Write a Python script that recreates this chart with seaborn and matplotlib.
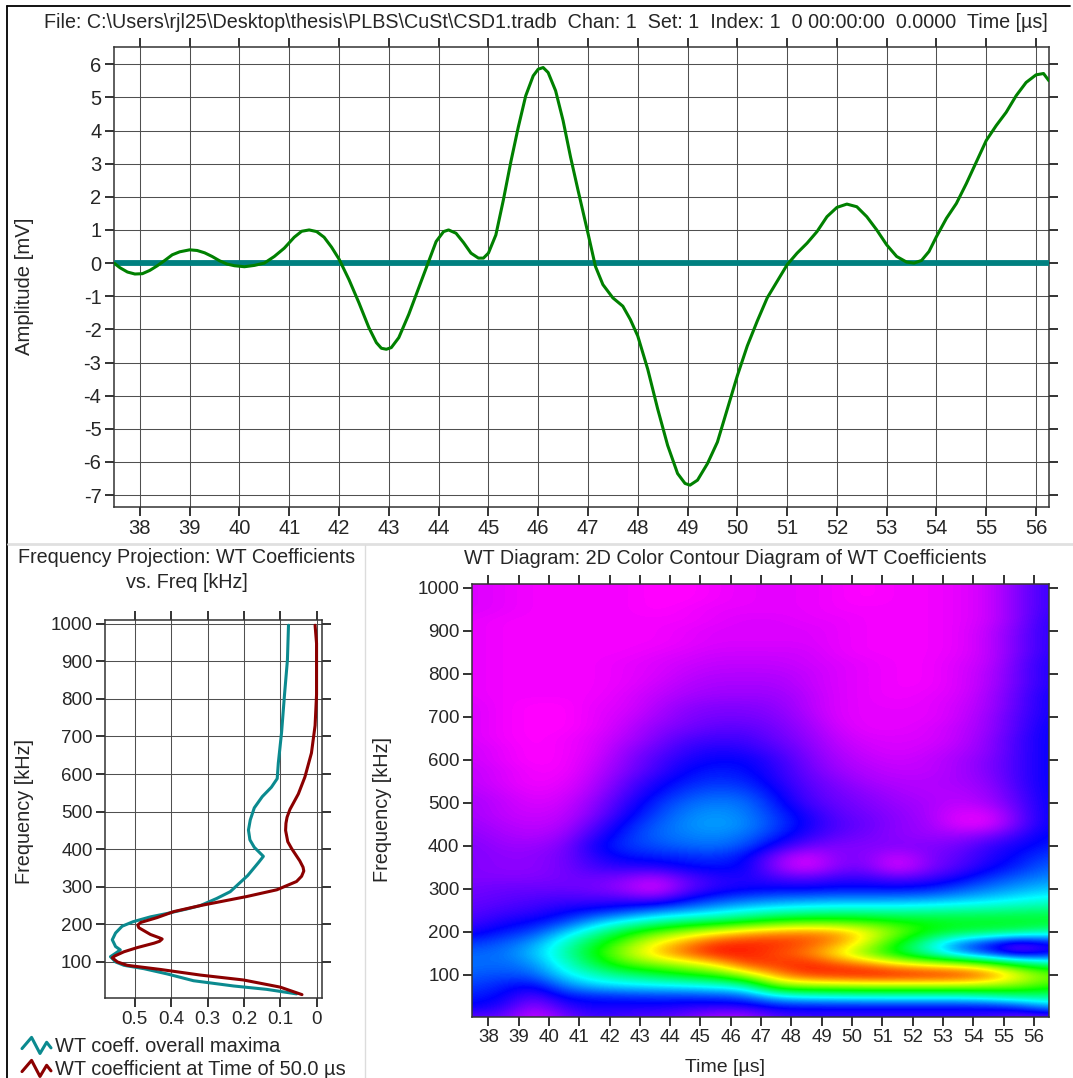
import numpy as np
import pandas as pd
import seaborn as sns
import matplotlib
matplotlib.use('Agg')
import matplotlib.pyplot as plt
from matplotlib.colors import LinearSegmentedColormap
from matplotlib.legend_handler import HandlerBase
from matplotlib.lines import Line2D

# --- waveform ---
wave_time = [37.48, 37.6, 37.75, 37.9, 38.05, 38.2, 38.35, 38.5, 38.65, 38.8, 39, 39.15, 39.3, 39.45, 39.6, 39.75,
             39.9, 40.1, 40.3, 40.5, 40.7, 40.9, 41.1, 41.25, 41.4, 41.55, 41.7, 41.85, 42, 42.2, 42.4, 42.6,
             42.75, 42.85, 42.95, 43.05, 43.2, 43.4, 43.6, 43.8, 43.95, 44.1, 44.2, 44.35, 44.5, 44.65, 44.8, 44.9,
             45, 45.15, 45.3, 45.45, 45.6, 45.75, 45.9, 46, 46.1, 46.2, 46.35, 46.5, 46.65, 46.8, 47, 47.15,
             47.3, 47.5, 47.7, 47.85, 48, 48.2, 48.4, 48.6, 48.8, 48.95, 49.05, 49.2, 49.4, 49.6, 49.8, 50,
             50.2, 50.4, 50.6, 50.8, 51, 51.2, 51.4, 51.6, 51.8, 52, 52.2, 52.4, 52.6, 52.8, 53, 53.2,
             53.4, 53.55, 53.7, 53.85, 54, 54.2, 54.4, 54.6, 54.8, 55, 55.2, 55.4, 55.6, 55.8, 56, 56.15, 56.26]
wave_mv = [0, -.14, -.27, -.33, -.32, -.22, -.08, .08, .25, .34, .4, .38, .31, .2, .07, -.03,
           -.08, -.11, -.07, 0, .2, .45, .78, .96, 1.0, .95, .78, .48, .12, -.5, -1.2, -1.95,
           -2.4, -2.57, -2.6, -2.55, -2.25, -1.55, -.75, .05, .65, .95, 1.0, .9, .62, .3, .15, .15,
           .3, .85, 1.9, 3.05, 4.1, 5.05, 5.65, 5.85, 5.9, 5.75, 5.2, 4.3, 3.2, 2.2, .9, -.1,
           -.65, -1.05, -1.3, -1.7, -2.2, -3.2, -4.4, -5.5, -6.35, -6.65, -6.7, -6.55, -6.05, -5.4, -4.4, -3.4,
           -2.5, -1.75, -1.05, -.55, -.05, .3, .6, .95, 1.4, 1.68, 1.78, 1.7, 1.4, 1.0, .55, .2,
           .03, 0, .08, .35, .8, 1.35, 1.8, 2.4, 3.05, 3.7, 4.15, 4.55, 5.05, 5.45, 5.68, 5.72, 5.5]
base_time = [37.48, 56.26]
base_mv = [0, 0]

# --- frequency projection ---
max_coef = [.078, .081, .089, .097, .106, .109, .125, .15, .172, .183, .188, .184, .172, .147, .16, .19, .238, .275,
            .32, .357, .411, .457, .505, .535, .553, .562, .553, .54, .553, .567, .553, .53, .475, .411, .339,
            .229, .138, .056]
max_freq = [996, 903, 811, 711, 629, 588, 565, 540, 510, 478, 451, 425, 405, 381, 365, 330, 287, 269,
            250, 241, 229, 220, 207, 195, 177, 159, 141, 132, 123, 114, 100, 91, 82, 68, 50,
            36, 27, 15]
t50_coef = [.005, .001, .001, .005, .015, .033, .051, .074, .082, .085, .086, .08, .069, .047, .038, .036, .042, .056,
            .11, .193, .32, .393, .439, .484, .492, .489, .457, .432, .425, .432, .447, .494, .53, .555, .562, .548,
            .521, .43, .32, .202, .101, .041]
t50_freq = [996, 948, 811, 729, 656, 592, 547, 506, 485, 469, 450, 420, 401, 369, 352, 342, 328, 314,
            292, 274, 250, 234, 218, 205, 198, 191, 173, 164, 161, 155, 150, 138, 127, 116, 111, 100,
            91, 80, 65, 52, 33, 13]

# --- WT diagram, rows from 0 kHz upward in 25 kHz steps, columns 37.5 .. 56.5 us ---
wt_rows = [
    [1.2, 1.2, .3, 1.0, 1.5, 1.4, 1.3, 1.1, .6, .6, 1.3, 1.5, 1.5, 1.5, 1.5, 1.5, 1.5, 1.5, 1.0, 1.0],
    [2, 1.7, .7, 1.6, 1.9, 1.8, 1.8, 1.7, 1.6, 1.6, 2, 2, 2, 2, 2, 2, 2, 2, 2.3, 3.2],
    [2.2, 2, 1.3, 2.1, 2.2, 2.3, 2.4, 2.4, 2.5, 2.7, 3.7, 4, 4.1, 4.2, 4.2, 4.2, 4.2, 4.5, 4.9, 5],
    [2.5, 2.2, 1.9, 3, 3.6, 3.8, 3.9, 4, 4.2, 4.5, 7, 7.3, 7.4, 7.5, 7.5, 7.5, 7.5, 7.3, 7, 6.3],
    [2.7, 2.6, 2.7, 3.8, 4.5, 5, 5.4, 5.9, 6.3, 7.5, 8.8, 9.6, 9.8, 10, 10, 9.9, 9.8, 9.3, 8, 7],
    [2.9, 2.8, 3.1, 4.3, 5.4, 6.5, 7, 7.5, 8.2, 9.5, 9.6, 9.8, 9.4, 9, 8.3, 7.9, 7.6, 7, 5.8, 5],
    [2.8, 2.9, 3.5, 4.6, 6, 7.3, 8.4, 9.2, 9.9, 9.8, 9.4, 9, 8, 6.8, 5.7, 4.5, 3.2, 2.2, 1.2, 1.8],
    [2.4, 2.7, 3.2, 4.4, 5.6, 6.8, 8, 8.8, 9.6, 9.7, 9.7, 9.4, 8.9, 7.7, 6, 4.5, 3, 2.2, 1.2, 2],
    [1.8, 2.2, 2.5, 3.5, 4.6, 5.7, 6.6, 7.3, 7.9, 8.5, 8.8, 9, 8.8, 8, 7, 6, 5.6, 5.4, 5.2, 4.7],
    [1.5, 1.8, 2, 2.4, 3.3, 4, 4.6, 5, 5.3, 5.7, 6.2, 6.4, 6.4, 6.3, 6, 5.9, 5.8, 5.8, 5.8, 5.8],
    [1.3, 1.5, 1.6, 1.9, 2.1, 2.4, 2.9, 3.2, 3.6, 4, 4.3, 4.5, 4.6, 4.6, 4.6, 4.7, 4.8, 4.9, 5, 5.1],
    [1.2, 1.3, 1.4, 1.5, 1.5, 1.5, 1.3, 2, 2.5, 2.8, 3, 3.1, 3.2, 3.2, 3.2, 3.3, 3.5, 3.7, 4, 4.2],
    [1.1, 1.2, 1.2, 1.2, 1.1, .8, .2, 1.2, 1.7, 1.9, 2, 2, 2.1, 2.1, 2.1, 2.2, 2.6, 3, 3.3, 3.6],
    [1.0, 1.0, 1.0, 1.1, 1.2, 1.0, .6, 1.3, 1.7, 1.8, 1.5, 1.3, 1.6, 1.6, 1.3, 1.5, 1.9, 2.4, 2.8, 3.1],
    [1, .9, .9, 1.1, 1.5, 1.7, 1.7, 2, 2.1, 2, .9, .2, 1.0, 1.1, .2, 1.0, 1.4, 1.9, 2.3, 2.8],
    [1, .9, .9, 1.1, 1.7, 2.1, 2.2, 2.3, 2.4, 2.1, 1.0, .3, 1.0, 1.0, .4, 1.0, 1.3, 1.7, 2.1, 2.5],
    [1, .8, .8, 1, 1.9, 2.4, 2.6, 2.8, 2.9, 2.6, 1.8, 1.2, 1, 1, 1, 1.0, 1.1, 1.6, 1.9, 2.2],
    [.9, .7, .6, .8, 1.6, 2.3, 2.8, 3, 3.1, 2.9, 2.3, 1.7, 1.3, 1.1, .9, .8, .8, 1.0, 1.6, 2.1],
    [.8, .6, .5, .6, 1.3, 2.1, 2.7, 3.1, 3.3, 3.1, 2.5, 1.9, 1.4, 1.2, .9, .8, .25, .2, 1.2, 2],
    [.7, .5, .4, .5, 1.0, 1.8, 2.5, 3, 3.2, 3, 2.4, 1.8, 1.3, 1.1, .9, .7, .3, .3, 1.2, 2],
    [.7, .5, .3, .4, .9, 1.6, 2.3, 2.8, 3, 2.9, 2.2, 1.5, 1.2, 1, .8, .7, .5, .7, 1.3, 2],
    [.6, .4, .2, .3, .7, 1.4, 2, 2.5, 2.7, 2.6, 2, 1.4, 1.1, .9, .7, .6, .6, .8, 1.4, 2],
    [.5, .3, .1, .2, .6, 1.2, 1.8, 2.2, 2.4, 2.3, 1.8, 1.3, 1, .7, .6, .6, .7, .9, 1.5, 2],
    [.5, .3, .1, .1, .5, 1, 1.5, 2, 2.2, 2.1, 1.7, 1.2, .8, .6, .5, .5, .7, 1, 1.5, 2],
    [.4, .2, 0, .1, .4, .9, 1.4, 1.8, 2, 2, 1.6, 1.1, .7, .5, .4, .5, .7, 1, 1.5, 2],
    [.4, .2, 0, .1, .3, .8, 1.2, 1.6, 1.8, 1.7, 1.4, 1, .6, .4, .3, .4, .6, .9, 1.5, 2],
    [.3, .1, 0, .1, .3, .6, 1.0, 1.4, 1.5, 1.5, 1.2, .9, .5, .3, .3, .3, .5, .9, 1.5, 2],
    [.3, .1, 0, 0, .2, .5, .9, 1.1, 1.3, 1.3, 1.1, .8, .4, .2, .2, .3, .5, .8, 1.4, 2],
    [.3, .1, 0, 0, .2, .4, .7, 1, 1.1, 1.1, 1, .7, .3, .2, .2, .2, .4, .8, 1.4, 1.9],
    [.3, .1, 0, 0, .2, .3, .6, .9, 1, 1, .9, .6, .3, .2, .2, .2, .4, .7, 1.3, 1.9],
    [.2, .1, .1, .1, .1, .3, .5, .7, .8, .8, .8, .6, .3, .2, .1, .2, .3, .7, 1.3, 1.9],
    [.2, .1, .1, .1, .1, .2, .4, .6, .7, .7, .7, .5, .3, .2, .1, .1, .3, .6, 1.2, 1.8],
    [.2, .1, .1, .1, .1, .2, .3, .5, .6, .6, .6, .5, .3, .2, .1, .1, .3, .6, 1.2, 1.8],
    [.2, .1, .1, .1, .1, .2, .3, .4, .5, .5, .5, .4, .3, .2, .1, .1, .3, .5, 1.2, 1.8],
    [.2, .1, .1, .1, .1, .1, .2, .3, .4, .4, .4, .4, .2, .1, .1, .1, .2, .5, 1.1, 1.7],
    [.2, .1, .1, .1, .1, .1, .1, .2, .3, .3, .3, .3, .2, .1, .1, .1, .2, .5, 1.1, 1.7],
    [.2, .1, .1, .1, .1, .1, .1, .2, .3, .3, .3, .3, .2, .1, .1, .1, .2, .5, 1.1, 1.7],
    [.2, .1, .1, .1, .1, .1, .1, .1, .2, .3, .3, .2, .2, .1, .1, .1, .2, .4, 1.0, 1.7],
    [.3, .2, .1, .1, .1, .1, 0, .1, .2, .2, .2, .2, .1, .1, .1, .1, .2, .4, 1.0, 1.6],
    [.3, .2, .1, .1, .1, .1, 0, 0, .1, .2, .2, .2, .1, 0, .1, .1, .2, .4, 1.0, 1.6],
    [.3, .2, .1, .1, .1, .1, 0, 0, .1, .2, .2, .2, .1, 0, .1, .1, .2, .4, 1.0, 1.6],
]

time_ticks = list(range(38, 57))
amp_ticks = list(range(-7, 7))
freq_ticks = list(range(100, 1100, 100))
coef_ticks = [0.5, 0.4, 0.3, 0.2, 0.1, 0]
coef_labels = ['0.5', '0.4', '0.3', '0.2', '0.1', '0']

W, H = 1073, 1078
TEAL = '#0b8a8f'
RED = '#8b0000'
GRID = '#505050'

sns.set_style('ticks')
plt.rcParams['font.family'] = ['Liberation Sans', 'DejaVu Sans']
plt.rcParams['font.size'] = 14
plt.rcParams['axes.unicode_minus'] = False


def place(fig, left, top, right, bottom):
    # pixel box -> axes
    return fig.add_axes([left / W, 1 - bottom / H, (right - left) / W, (bottom - top) / H])


def dress(ax, size=14.5, grid=True):
    ax.tick_params(which='major', direction='out', length=6.5, width=1.2, color='#111111',
                   top=True, right=True, bottom=True, left=True, labelsize=size, pad=2.5)
    for s in ax.spines.values():
        s.set_color('#333333')
        s.set_linewidth(1.1)
    if grid:
        ax.grid(True, color=GRID, linewidth=0.75)
        ax.set_axisbelow(True)


def label_at(axis, x, y):
    axis.set_label_coords(x / W, 1 - y / H, transform=axis.axes.figure.transFigure)
    axis.label.set_verticalalignment('center')


class ZigzagHandler(HandlerBase):
    def create_artists(self, legend, orig, xd, yd, width, height, fontsize, trans):
        xs = np.array([0, .33, .62, .85, 1]) * width
        ys = np.array([.25, 1.05, -.1, .7, .3]) * height
        line = Line2D(xs, ys, color=orig.get_color(), lw=orig.get_linewidth(), transform=trans)
        return [line]


fig = plt.figure(figsize=(W / 100, H / 100), dpi=100, facecolor='white')

# --- top panel ---
ax = place(fig, 114, 47, 1049, 507)
sns.lineplot(x=base_time, y=base_mv, color='#008080', lw=4.2, sort=False, estimator=None, ax=ax, zorder=3)
sns.lineplot(x=wave_time, y=wave_mv, color='#008000', lw=2.2, sort=False, estimator=None, ax=ax, zorder=4)
ax.set_xlim(37.48, 56.26)
ax.set_ylim(-7.36, 6.52)
ax.set_xticks(time_ticks)
ax.set_yticks(amp_ticks)
dress(ax)
ax.set_ylabel('Amplitude [mV]', fontsize=14.6)
label_at(ax.yaxis, 24, 286)
fig.text(546 / W, 1 - 22 / H, 'File: C:\\Users\\rjl25\\Desktop\\thesis\\PLBS\\CuSt\\CSD1.tradb  Chan: 1  Set: 1  '
         'Index: 1  0 00:00:00  0.0000  Time [µs]', ha='center', va='center', fontsize=14.2)

# --- frequency projection ---
ax2 = place(fig, 105, 620, 322, 998)
teal_line = sns.lineplot(x=max_coef, y=max_freq, color=TEAL, lw=2.2, sort=False, estimator=None, ax=ax2).lines[-1]
red_line = sns.lineplot(x=t50_coef, y=t50_freq, color=RED, lw=2.2, sort=False, estimator=None, ax=ax2).lines[-1]
ax2.set_xlim(0.582, -0.014)
ax2.set_ylim(4, 1010)
ax2.set_xticks(coef_ticks, coef_labels)
ax2.set_yticks(freq_ticks)
dress(ax2, size=13.5)
ax2.set_ylabel('Frequency [kHz]', fontsize=14.3)
label_at(ax2.yaxis, 24, 812)
fig.text(187 / W, 1 - 570 / H, 'Frequency Projection: WT Coefficients\nvs. Freq [kHz]', ha='center', va='center',
         fontsize=14.2, linespacing=1.35)
fig.legend([teal_line, red_line], ['WT coeff. overall maxima', 'WT coefficient at Time of 50.0 µs'],
           handler_map={teal_line: ZigzagHandler(), red_line: ZigzagHandler()},
           loc='lower left', bbox_to_anchor=(22 / W, -0.001), frameon=False, fontsize=14.4,
           handlelength=1.45, handletextpad=0.2, labelspacing=0.2, borderpad=0, borderaxespad=0)

# --- WT diagram ---
wt_cmap = LinearSegmentedColormap.from_list(
    'wt', [(0, '#ff00ff'), (0.2, '#0000ff'), (0.4, '#00ffff'), (0.6, '#00ff00'), (0.8, '#ffff00'), (1, '#ff0000')])
ax3 = place(fig, 472, 584, 1049, 1017)
ax3.imshow(np.array(wt_rows), origin='lower', aspect='auto', extent=(37, 57, -12.5, 1012.5),
           cmap=wt_cmap, vmin=0, vmax=10, interpolation='bicubic')
ax3.set_xlim(37.46, 56.5)
ax3.set_ylim(2, 1009)
ax3.set_xticks(time_ticks)
ax3.set_yticks(freq_ticks)
dress(ax3, size=13.5, grid=False)
ax3.set_xlabel('Time [µs]', fontsize=14)
label_at(ax3.xaxis, 725, 1067)
ax3.set_ylabel('Frequency [kHz]', fontsize=14.3)
label_at(ax3.yaxis, 382, 810)
fig.text(725 / W, 1 - 558 / H, 'WT Diagram: 2D Color Contour Diagram of WT Coefficients', ha='center', va='center',
         fontsize=14.2)

# window frame lines
fig.add_artist(Line2D([7 / W, 7 / W], [0, 1 - 6 / H], color='black', lw=1.3))
fig.add_artist(Line2D([7 / W, 1070 / W], [1 - 6 / H, 1 - 6 / H], color='black', lw=1.3))
fig.add_artist(Line2D([8 / W, 1], [1 - 544 / H, 1 - 544 / H], color='#e0e0e0', lw=2))
fig.add_artist(Line2D([365 / W, 365 / W], [0, 1 - 545 / H], color='#dcdcdc', lw=1))

fig.savefig('out.png', dpi=100)
